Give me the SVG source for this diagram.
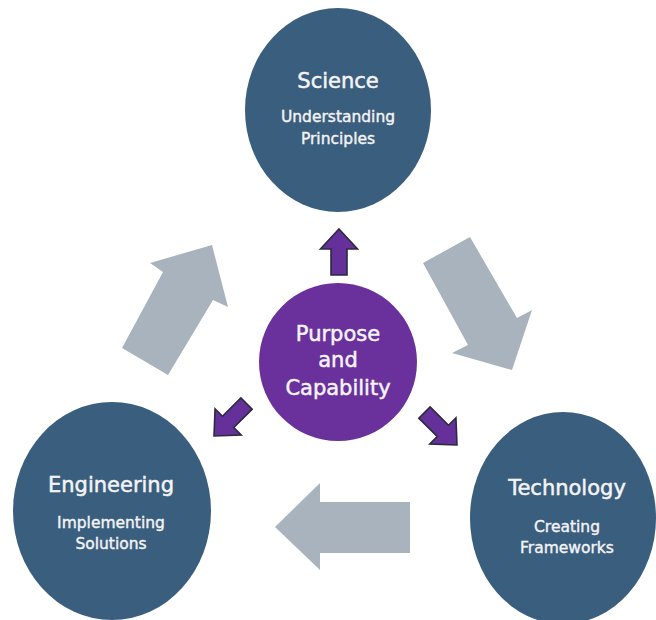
<svg xmlns="http://www.w3.org/2000/svg" width="656" height="620" viewBox="0 0 656 620">
<style>
.node{fill:#3a5e7d}
.core{fill:#6a309b}
.flow{fill:#a9b3be}
.push{fill:#66309a;stroke:#2a2b3c;stroke-width:1.6;stroke-linejoin:miter}
.t{font-family:"DejaVu Sans",sans-serif;fill:#f4f4f6;stroke:#f4f4f6;stroke-width:0.5;text-anchor:middle}
.h{font-size:21px}
.s{font-size:15.5px;stroke-width:0.4}
.c{font-size:21px}
</style>
<defs>
<path id="pa" d="M0,0 L18.5,20 L8,20 L8,46 L-8,46 L-8,20 L-18.5,20 Z"/>
</defs>
<rect width="656" height="620" fill="#ffffff"/>
<g id="connectors">
<polygon class="flow" points="212,245 228,307 213,300 168,375 122,348 163,272 150,263"/>
<polygon class="flow" points="423,263 470,237 517,318 532,310 512,370 452,353 468,345"/>
<polygon class="flow" points="275,527 320,483 320,502 410,502 410,553 320,553 320,570"/>
<use href="#pa" class="push" transform="translate(339,229)"/>
<use href="#pa" class="push" transform="translate(214,436) rotate(225)"/>
<use href="#pa" class="push" transform="translate(457,445) rotate(135)"/>
</g>
<g id="science">
<ellipse class="node" cx="338" cy="110" rx="93" ry="102"/>
<text class="t h" x="338" y="88">Science</text>
<text class="t s" x="338" y="122">Understanding</text>
<text class="t s" x="338" y="144">Principles</text>
</g>
<g id="engineering">
<ellipse class="node" cx="112" cy="511" rx="99" ry="109"/>
<text class="t h" x="111" y="492">Engineering</text>
<text class="t s" x="111" y="528">Implementing</text>
<text class="t s" x="111" y="549">Solutions</text>
</g>
<g id="technology">
<ellipse class="node" cx="563" cy="518" rx="93" ry="106"/>
<text class="t h" x="567" y="495">Technology</text>
<text class="t s" x="567" y="532">Creating</text>
<text class="t s" x="567" y="553">Frameworks</text>
</g>
<g id="purpose">
<circle class="core" cx="338" cy="362" r="79"/>
<text class="t c" x="338" y="341">Purpose</text>
<text class="t c" x="338" y="367">and</text>
<text class="t c" x="338" y="395">Capability</text>
</g>
</svg>
